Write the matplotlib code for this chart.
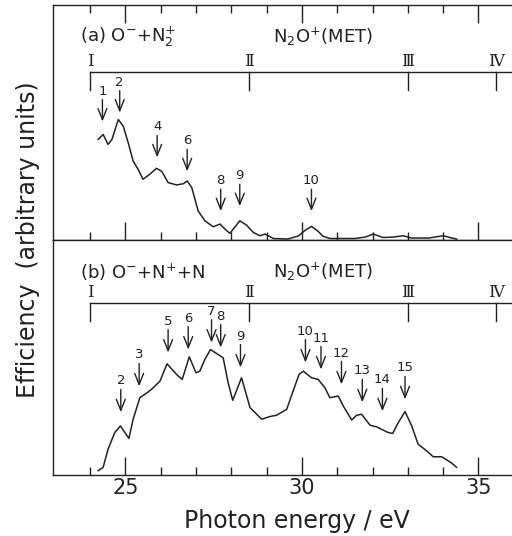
import matplotlib
matplotlib.use("Agg")
import matplotlib.pyplot as plt
import matplotlib.transforms as mtransforms

plt.rcParams['font.family'] = ['DejaVu Sans']
plt.rcParams['mathtext.default'] = 'regular'

INK = '#222222'

# panel (a): O- + N2+  (energy in eV, efficiency in arbitrary units)
E_a = [24.23, 24.37, 24.51, 24.62, 24.80, 24.94, 25.08, 25.22, 25.36, 25.50,
       25.69, 25.88, 26.03, 26.21, 26.45, 26.64, 26.75, 26.88, 27.06, 27.25,
       27.49, 27.68, 27.82, 27.96, 28.24, 28.43, 28.62, 28.81, 28.95, 29.09,
       29.19, 29.6, 29.9, 30.1, 30.27, 30.45, 30.60, 30.8, 31.5, 31.8,
       32.02, 32.3, 32.6, 32.87, 33.1, 33.6, 34.0, 34.25, 34.38]
I_a = [100, 105, 95, 100, 120, 113.3, 96.7, 78.3, 70, 60,
       65, 71, 68, 56.7, 54.3, 55.5, 58.3, 51.7, 28.3, 18.3,
       12.3, 15, 10, 5.7, 18.3, 14, 6.7, 3.3, 5, 2.5,
       0.5, 0, 3, 9, 12.7, 8, 2.7, 0.5, 0.5, 2,
       5, 1.5, 2, 3.3, 1, 1, 3.3, 1, 0]

# panel (b): O- + N+ + N
E_b = [24.23, 24.37, 24.51, 24.70, 24.86, 25.10, 25.22, 25.41, 25.55, 25.74,
       25.98, 26.18, 26.45, 26.61, 26.81, 27.00, 27.11, 27.25, 27.41, 27.77,
       27.91, 28.04, 28.29, 28.53, 28.72, 28.86, 29.09, 29.28, 29.57, 29.75,
       29.92, 30.04, 30.27, 30.46, 30.65, 30.79, 31.03, 31.17, 31.41, 31.55,
       31.69, 31.93, 32.12, 32.44, 32.57, 32.73, 32.92, 33.11, 33.29, 33.53,
       33.72, 33.96, 34.24, 34.38]
I_b = [3.3, 6.7, 25, 41.7, 48.3, 35.7, 55, 76.7, 80, 85,
       93.3, 110.7, 100, 95, 117.7, 101.7, 103.3, 115, 125, 116.7,
       91.7, 74, 96.7, 66.7, 60, 55, 57.7, 59, 65, 83.3,
       100, 103.3, 96.7, 95, 86.7, 76.7, 78.3, 68.3, 54.3, 59,
       60, 49, 47.3, 41.7, 40.7, 51.7, 62.7, 48.3, 30, 23.3,
       17.3, 17.3, 11, 6.7]

# assigned peaks (arrow energy, arrow tip height)
peaks_a = ['1', '2', '4', '6', '8', '9', '10']
peaks_a_E = [24.35, 24.84, 25.90, 26.75, 27.70, 28.24, 30.27]
peaks_a_tip = [118, 127, 82, 68, 28, 33, 28]

peaks_b = ['2', '3', '5', '6', '7', '8', '9', '10', '11', '12', '13', '14', '15']
peaks_b_E = [24.87, 25.39, 26.21, 26.78, 27.44, 27.70, 28.26, 30.10, 30.54,
             31.12, 31.71, 32.28, 32.92]
peaks_b_tip = [62, 88, 122, 125, 132, 127, 107, 112, 105, 90, 72, 63, 75]

# N2O+ (MET) thresholds
levels = ['I', 'Ⅱ', 'Ⅲ', 'Ⅳ']
levels_E = [24.0, 28.5, 33.0, 35.5]

fig = plt.figure(figsize=(5.12, 5.36), dpi=100)
ax_a = fig.add_axes([0.1035, 0.5522, 0.8965, 0.4385])
ax_b = fig.add_axes([0.1035, 0.1138, 0.8965, 0.4384])


def draw_panel(ax, E, I, names, pE, ptip, alen, label, top_ticks, ybr):
    ax.plot(E, I, color=INK, lw=1.1)
    ax.set_xlim(22.95, 35.95)
    ax.set_ylim(-1, 235)
    ax.set_yticks([])
    ax.set_xticks([25, 30, 35])
    ax.set_xticks(range(24, 36), minor=True)
    ax.tick_params(axis='x', which='both', direction='in', colors=INK,
                   top=top_ticks, width=1.0, labelsize=15, pad=2)
    ax.tick_params(axis='x', which='major', length=13)
    ax.tick_params(axis='x', which='minor', length=6)
    ax.spines['right'].set_visible(False)
    for s in ['left', 'top', 'bottom']:
        ax.spines[s].set_color(INK)
        ax.spines[s].set_linewidth(1.0)

    for n, x, y in zip(names, pE, ptip):
        ax.annotate('', xy=(x, y), xytext=(x, y + alen),
                    arrowprops=dict(arrowstyle='->,head_length=0.8,head_width=0.32',
                                    color=INK, lw=1.0, shrinkA=0, shrinkB=0))
        ax.text(x, y + alen + 2, n, ha='center', va='bottom', fontsize=9.5, color=INK)

    ax.text(0.059, 0.864, label, transform=ax.transAxes, fontsize=13,
            color=INK, va='center', ha='left')
    ax.text(0.479, 0.864, r'N$_2$O$^{+}$(MET)', transform=ax.transAxes,
            fontsize=13, color=INK, va='center', ha='left')

    # bracket of MET thresholds
    tr = mtransforms.blended_transform_factory(ax.transData, ax.transAxes)
    ax.plot([levels_E[0], 35.95], [ybr, ybr], color=INK, lw=1.0,
            transform=tr, clip_on=False)
    for name, x in zip(levels, levels_E):
        ax.plot([x, x], [ybr, ybr - 0.078], color=INK, lw=1.0, transform=tr)
        ax.text(x, ybr + 0.043, name, transform=tr, ha='center', va='center',
                fontsize=12, color=INK, family=['DejaVu Serif', 'DejaVu Sans'])


draw_panel(ax_a, E_a, I_a, peaks_a, peaks_a_E, peaks_a_tip, 22,
           r'(a) O$^{-}$+N$_2^{+}$', True, 0.715)
draw_panel(ax_b, E_b, I_b, peaks_b, peaks_b_E, peaks_b_tip, 23,
           r'(b) O$^{-}$+N$^{+}$+N', False, 0.732)
ax_a.tick_params(axis='x', labelbottom=False)

fig.text(0.055, 0.552, 'Efficiency  (arbitrary units)', rotation=90,
         ha='center', va='center', fontsize=17, color=INK)
fig.text(0.579, 0.028, 'Photon energy / eV', ha='center', va='center',
         fontsize=17, color=INK)

fig.savefig('out.png', dpi=100)
